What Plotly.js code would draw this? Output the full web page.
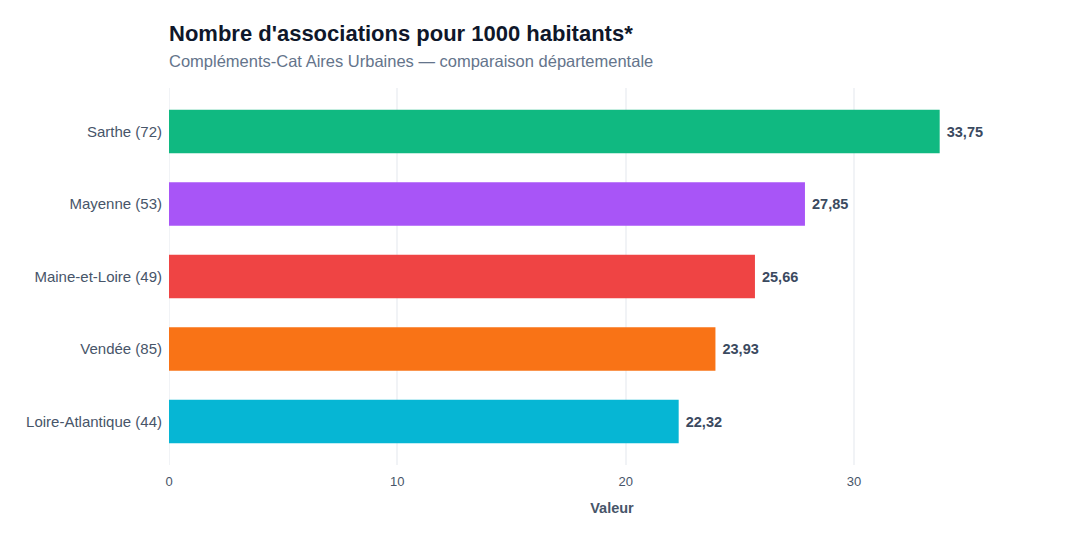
<!DOCTYPE html>
<html>
<head>
<meta charset="utf-8">
<script src="https://cdn.plot.ly/plotly-3.0.1.min.js"></script>
<style>
  html, body { margin: 0; padding: 0; background: #ffffff; }
  #chart { width: 1080px; height: 540px; }
</style>
</head>
<body>
<div id="chart"></div>
<script>
// Départements, top to bottom
const departements = ["Sarthe (72)", "Mayenne (53)", "Maine-et-Loire (49)", "Vendée (85)", "Loire-Atlantique (44)"];
const valeurs = [33.75, 27.85, 25.66, 23.93, 22.32];
const couleurs = ["#10b981", "#a855f7", "#ef4444", "#f97316", "#06b6d4"];
const xTicks = [0, 10, 20, 30];

const font = "Liberation Sans, Arial, sans-serif";

const trace = {
  type: "bar",
  orientation: "h",
  y: departements,
  x: valeurs,
  width: 0.6,
  marker: { color: couleurs },
  texttemplate: " <b>%{x:.2f}</b>",
  textposition: "outside",
  cliponaxis: false,
  textfont: { family: font, size: 14.5, color: "#3b4a5f" },
  hoverinfo: "skip"
};

const layout = {
  width: 1080,
  height: 540,
  margin: { l: 169, r: 25, t: 88, b: 75 },
  paper_bgcolor: "#ffffff",
  plot_bgcolor: "#ffffff",
  separators: ", ",
  font: { family: font, color: "#475569" },
  showlegend: false,
  title: {
    text: "<b>Nombre d'associations pour 1000 habitants*</b>",
    font: { family: font, size: 22, color: "#0f172a" },
    xref: "paper", x: 0, xanchor: "left",
    yref: "container", y: 0.938, yanchor: "middle"
  },
  annotations: [{
    text: "Compléments-Cat Aires Urbaines — comparaison départementale",
    xref: "paper", x: 0, xanchor: "left", xshift: -1,
    yref: "paper", y: 1, yanchor: "bottom", yshift: 17,
    showarrow: false, borderpad: 0,
    font: { family: font, size: 16.5, color: "#64748b" }
  }],
  xaxis: {
    range: [0, 38.8],
    tickvals: xTicks,
    ticktext: xTicks.map(String),
    showgrid: true,
    gridcolor: "#f1f3f6",
    gridwidth: 2,
    zeroline: false,
    showline: false,
    ticks: "",
    ticklabelstandoff: 7,
    tickfont: { family: font, size: 13, color: "#475569" },
    title: {
      text: "<b>Valeur</b>",
      font: { family: font, size: 14.5, color: "#475569" },
      standoff: 14
    }
  },
  yaxis: {
    type: "category",
    categoryorder: "array",
    categoryarray: departements.slice().reverse(),
    range: [-0.6, 4.6],
    showgrid: false,
    zeroline: false,
    showline: false,
    ticks: "",
    ticklabelstandoff: 6,
    tickfont: { family: font, size: 15, color: "#475569" }
  },
  shapes: [{
    type: "line", xref: "x", yref: "paper",
    x0: 0, x1: 0, y0: 0, y1: 1,
    line: { color: "#f1f3f6", width: 2 },
    layer: "below"
  }]
};

Plotly.newPlot("chart", [trace], layout, { displayModeBar: false, staticPlot: true });
</script>
</body>
</html>
